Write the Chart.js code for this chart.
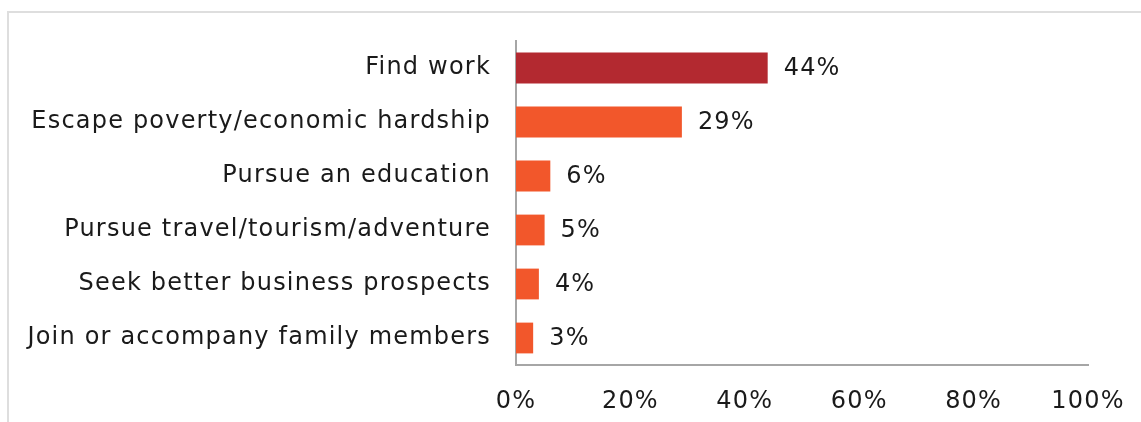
<!DOCTYPE html>
<html>
<head>
<meta charset="utf-8">
<script src="https://cdn.jsdelivr.net/npm/chart.js@4"></script>
<style>
  html, body { margin: 0; padding: 0; background: #fff; }
  #wrap { position: relative; width: 1141px; height: 422px; overflow: hidden; }
  #frame {
    position: absolute; left: 7px; top: 11px; right: -5px; bottom: -5px;
    border-top: 2px solid #dedede; border-left: 2px solid #dedede;
  }
  canvas { position: absolute; left: 0; top: 0; }
</style>
</head>
<body>
<div id="wrap">
  <div id="frame"></div>
  <canvas id="reasons_chart" width="1141" height="422"></canvas>
</div>
<script>
// reasons for leaving, share of respondents (%)
var reasons = [
  'Find work',
  'Escape poverty/economic hardship',
  'Pursue an education',
  'Pursue travel/tourism/adventure',
  'Seek better business prospects',
  'Join or accompany family members'
];
var shares = [44, 29, 6, 5, 4, 3];
var xTicks = [0, 20, 40, 60, 80, 100];

var bar_colors = reasons.map(function (r, i) {
  return i == 0 ? '#b32930' : '#f2572b';
});

var fontFamily = "'DejaVu Sans', sans-serif";
var fontSize = 24;
var spacing = '1.2px';

// wider tracking for all the text on the canvas
var tracking = {
  id: 'tracking',
  beforeDraw: function (chart) {
    chart.ctx.letterSpacing = spacing;
  }
};

// writes the percentage just past the end of each bar
var valueLabels = {
  id: 'valueLabels',
  afterDatasetsDraw: function (chart) {
    var ctx = chart.ctx;
    var meta = chart.getDatasetMeta(0);
    ctx.save();
    ctx.font = fontSize + 'px ' + fontFamily;
    ctx.fillStyle = '#1a1a1a';
    ctx.textAlign = 'left';
    ctx.textBaseline = 'middle';
    meta.data.forEach(function (bar, i) {
      ctx.fillText(shares[i] + '%', bar.x + 16, bar.y + 1);
    });
    ctx.restore();
  }
};

var chart_element = document.getElementById('reasons_chart').getContext('2d');
var myChart = new Chart(chart_element, {
  type: 'bar',
  data: {
    labels: reasons,
    datasets: [{
      data: shares,
      backgroundColor: bar_colors,
      borderWidth: 0,
      barPercentage: 0.57,
      categoryPercentage: 1
    }]
  },
  plugins: [tracking, valueLabels],
  options: {
    indexAxis: 'y',
    responsive: false,
    animation: false,
    layout: { padding: { top: 41, right: 53, left: 0, bottom: 0 } },
    plugins: {
      legend: { display: false },
      tooltip: { enabled: false }
    },
    scales: {
      x: {
        min: 0,
        max: 100,
        afterBuildTicks: function (scale) {
          scale.ticks = xTicks.map(function (v) { return { value: v }; });
        },
        afterFit: function (scale) {
          scale.height = 57;
          scale.paddingLeft = 0;
          scale.paddingRight = 0;
        },
        grid: { display: false, drawTicks: false },
        border: { display: true, color: '#a6a6a6', width: 2 },
        ticks: {
          padding: 22,
          color: '#1a1a1a',
          font: { family: fontFamily, size: fontSize },
          callback: function (value) { return value + '%'; }
        }
      },
      y: {
        afterFit: function (scale) { scale.width = 516; },
        grid: { display: false, drawTicks: false },
        border: { display: true, color: '#a6a6a6', width: 2 },
        ticks: {
          padding: 25,
          color: '#1a1a1a',
          font: { family: fontFamily, size: fontSize }
        }
      }
    }
  }
});
</script>
</body>
</html>
